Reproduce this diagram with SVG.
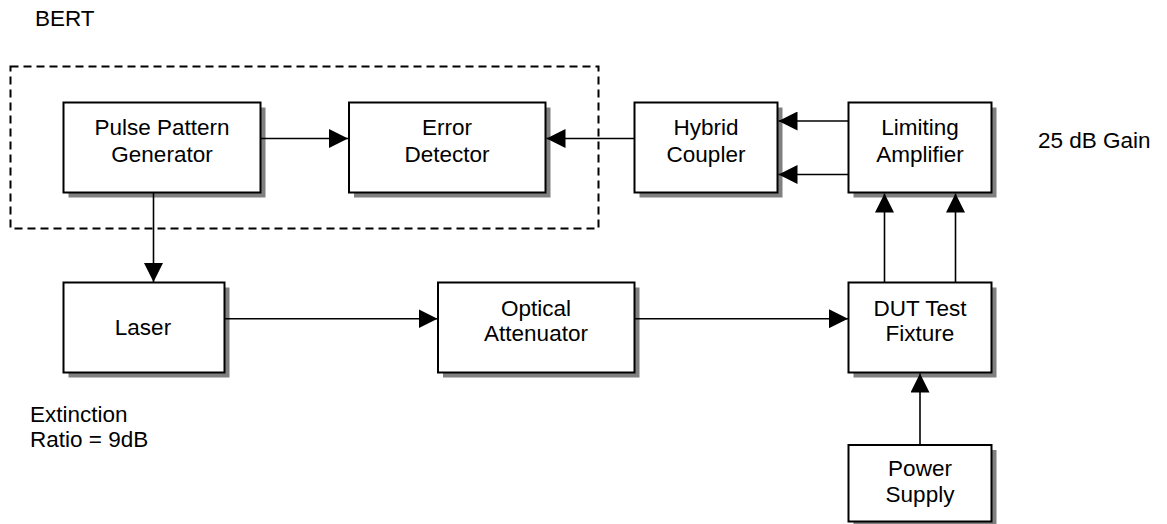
<svg xmlns="http://www.w3.org/2000/svg" width="1167" height="524" viewBox="0 0 1167 524">
<style>
.sh{fill:#808080;stroke:none}
.bx{fill:#fff;stroke:#000;stroke-width:2}
.t{font-family:"Liberation Sans",Arial,sans-serif;font-size:22.5px;fill:#000}
.c{text-anchor:middle}
.cn{fill:none;stroke:#000;stroke-width:1.6;marker-end:url(#ah)}
</style>
<defs>
<marker id="ah" markerUnits="userSpaceOnUse" markerWidth="19" markerHeight="19" refX="19" refY="9.5" orient="auto" viewBox="0 0 19 19">
<path d="M0,0 L19,9.5 L0,19 z" fill="#000"/>
</marker>
</defs>
<rect width="1167" height="524" fill="#fff"/>
<g id="bert">
<rect x="10.5" y="66.5" width="588" height="162" fill="none" stroke="#000" stroke-width="2" stroke-dasharray="8 5"/>
<text class="t" x="35" y="26">BERT</text>
</g>
<g id="ppg">
<rect class="sh" x="68.5" y="107.5" width="197" height="90"/>
<rect class="bx" x="63.5" y="102.5" width="197" height="90"/>
<text class="t c" x="162" y="135">Pulse Pattern</text>
<text class="t c" x="162" y="161.7">Generator</text>
</g>
<g id="ed">
<rect class="sh" x="354" y="107.5" width="196.5" height="90"/>
<rect class="bx" x="349" y="102.5" width="196.5" height="90"/>
<text class="t c" x="447" y="135">Error</text>
<text class="t c" x="447" y="161.7">Detector</text>
</g>
<g id="hc">
<rect class="sh" x="639.5" y="107.5" width="143" height="90"/>
<rect class="bx" x="634.5" y="102.5" width="143" height="90"/>
<text class="t c" x="706" y="135">Hybrid</text>
<text class="t c" x="706" y="161.7">Coupler</text>
</g>
<g id="la">
<rect class="sh" x="853.5" y="107.5" width="143" height="90"/>
<rect class="bx" x="848.5" y="102.5" width="143" height="90"/>
<text class="t c" x="920" y="135">Limiting</text>
<text class="t c" x="920" y="161.7">Amplifier</text>
</g>
<g id="gain">
<text class="t" x="1038" y="148">25 dB Gain</text>
</g>
<g id="laser">
<rect class="sh" x="68.5" y="287.5" width="161" height="90"/>
<rect class="bx" x="63.5" y="282.5" width="161" height="90"/>
<text class="t c" x="143" y="334.5">Laser</text>
</g>
<g id="extinction">
<text class="t" x="30" y="421.7">Extinction</text>
<text class="t" x="30" y="447">Ratio = 9dB</text>
</g>
<g id="oa">
<rect class="sh" x="443" y="287.5" width="196.5" height="90"/>
<rect class="bx" x="438" y="282.5" width="196.5" height="90"/>
<text class="t c" x="536" y="315.5">Optical</text>
<text class="t c" x="536" y="341">Attenuator</text>
</g>
<g id="dut">
<rect class="sh" x="853.5" y="287.5" width="143" height="90"/>
<rect class="bx" x="848.5" y="282.5" width="143" height="90"/>
<text class="t c" x="920" y="315.5">DUT Test</text>
<text class="t c" x="920" y="341">Fixture</text>
</g>
<g id="ps">
<rect class="sh" x="853.5" y="450" width="143" height="76.5"/>
<rect class="bx" x="848.5" y="445" width="143" height="76.5"/>
<text class="t c" x="920" y="476">Power</text>
<text class="t c" x="920" y="501.7">Supply</text>
</g>
<g id="connectors">
<path class="cn" d="M261,138.5 H348"/>
<path class="cn" d="M634,138.5 H546.5"/>
<path class="cn" d="M848,121 H778.5"/>
<path class="cn" d="M848,174.5 H778.5"/>
<path class="cn" d="M153.5,193 V282"/>
<path class="cn" d="M224,318.7 H437.5"/>
<path class="cn" d="M634,318.7 H848"/>
<path class="cn" d="M884.5,282 V193.5"/>
<path class="cn" d="M955.5,282 V193.5"/>
<path class="cn" d="M920,445 V373.5"/>
</g>
</svg>
